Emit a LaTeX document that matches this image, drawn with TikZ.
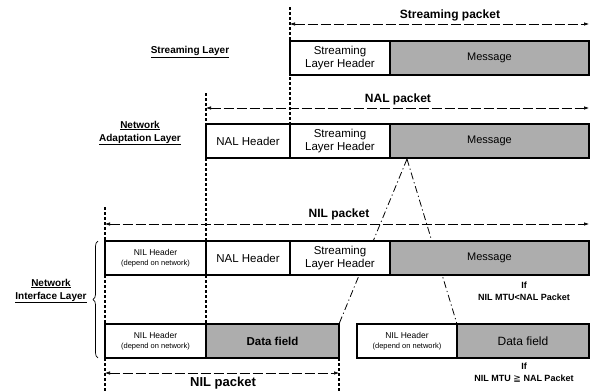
\documentclass[tikz,border=0pt]{standalone}
\usepackage{fontspec}
\setmainfont{Liberation Sans}
\newfontfamily\symfont{DejaVu Sans}
\usetikzlibrary{arrows.meta,decorations.pathreplacing}

\begin{document}
\begin{tikzpicture}[x=1pt,y=-1pt,
  every node/.style={inner sep=0pt,outer sep=0pt},
  box/.style={draw,line width=1.1pt,fill=white,minimum height=34pt,anchor=north west,align=center},
  msg/.style={box,fill=black!32},
  guide/.style={line width=1.1pt,dash pattern=on 3pt off 2pt},
  span/.style={line width=0.6pt,dash pattern=on 10pt off 3pt,
    {Latex[length=5pt,width=3.5pt]}-{Latex[length=5pt,width=3.5pt]}},
  fan/.style={line width=0.8pt,dash pattern=on 7pt off 3pt on 1.2pt off 3pt},
  hdr/.style={font=\fontsize{11.5}{13}\selectfont},
  nilhdr/.style={font=\fontsize{8.5}{11}\selectfont},
  msgtxt/.style={font=\fontsize{11}{13}\selectfont},
  spanlbl/.style={font=\fontsize{12}{14}\selectfont\bfseries},
  layer/.style={font=\fontsize{10}{13}\selectfont\bfseries,align=center},
  cond/.style={font=\fontsize{9}{12}\selectfont\bfseries,align=center}
]
\useasboundingbox (0,0) rectangle (590,391);

% --- coordinates for guides and spans ---
\coordinate (g1) at (290,7);
\coordinate (g2) at (206,93);
\coordinate (g3a) at (105,207);
\coordinate (g3b) at (105,391);
\coordinate (g4) at (339,391);
\coordinate (sp1a) at (290,24);  \coordinate (sp1b) at (589,24);
\coordinate (sp2a) at (206,108); \coordinate (sp2b) at (589,108);
\coordinate (sp3a) at (105,224); \coordinate (sp3b) at (589,224);
\coordinate (sp4a) at (105,373); \coordinate (sp4b) at (339,373);
\coordinate (apex) at (407,159);

% --- fragmentation fan (behind the boxes) ---
\draw[fan] (apex) -- (339,324) coordinate (fanL);
\draw[fan] (apex) -- (457,324) coordinate (fanR);

% --- streaming layer row ---
\node[box,minimum width=100pt,hdr] (slh1) at (290,41) {Streaming\\Layer Header};
\node[msg,minimum width=199pt,msgtxt] (msg1) at (390,41) {Message};

% --- network adaptation layer row ---
\node[box,minimum width=84pt,hdr] (nalh2) at (206,124) {NAL Header};
\node[box,minimum width=100pt,hdr] (slh2) at (290,124) {Streaming\\Layer Header};
\node[msg,minimum width=199pt,msgtxt] (msg2) at (390,124) {Message};

% --- network interface layer, NIL MTU < NAL packet ---
\node[box,minimum width=101pt,nilhdr] (nilh3) at (105,241) {NIL Header\\[-1pt]{\fontsize{7.5}{9}\selectfont(depend on network)}};
\node[box,minimum width=84pt,hdr] (nalh3) at (206,241) {NAL Header};
\node[box,minimum width=100pt,hdr] (slh3) at (290,241) {Streaming\\Layer Header};
\node[msg,minimum width=199pt,msgtxt] (msg3) at (390,241) {Message};

% --- network interface layer, NIL MTU >= NAL packet ---
\node[box,minimum width=101pt,nilhdr] (nilh4) at (105,324) {NIL Header\\[-1pt]{\fontsize{7.5}{9}\selectfont(depend on network)}};
\node[msg,minimum width=133pt,font=\fontsize{11.5}{13}\selectfont\bfseries] (df4) at (206,324) {Data field};
\node[box,minimum width=100pt,nilhdr] (nilh5) at (357,324) {NIL Header\\[-1pt]{\fontsize{7.5}{9}\selectfont(depend on network)}};
\node[msg,minimum width=132pt,font=\fontsize{12}{14}\selectfont] (df5) at (457,324) {Data field};

% --- dashed guide lines ---
\draw[guide] (g1) -- (slh2.north west);
\draw[guide] (g2) -- (nalh2.north west);
\draw[guide] (nalh2.south west) -- (nalh3.north west);
\draw[guide] (nalh3.south west) -- (df4.north west);
\draw[guide] (g3a) -- (nilh3.north west);
\draw[guide] (nilh3.south west) -- (nilh4.north west);
\draw[guide] (nilh4.south west) -- (g3b);
\draw[guide] (df4.south east) -- (g4);

% --- packet spans ---
\draw[span] (sp1a) -- (sp1b);
\draw[span] (sp2a) -- (sp2b);
\draw[span] (sp3a) -- (sp3b);
\draw[span] (sp4a) -- (sp4b);
\node[spanlbl] (lsp1) at (450,15) {Streaming packet};
\node[spanlbl] (lsp2) at (398,99) {NAL packet};
\node[spanlbl] (lsp3) at (339,214) {NIL packet};
\node[font=\fontsize{13}{15}\selectfont\bfseries] (lsp4) at (223,383) {NIL packet};

% --- layer names ---
\node[layer] (lay1) at (190,52) {\underline{Streaming Layer}};
\node[layer] (lay2) at (140,133) {\underline{Network}\\\underline{Adaptation Layer}};
\node[layer] (lay3) at (51,291) {\underline{Network}\\\underline{Interface Layer}};
\draw[line width=0.7pt,decorate,decoration={brace,amplitude=5pt}] (98,358) -- (98,241);

% --- conditions ---
\node[cond] (c1) at (524,291) {If\\NIL MTU<NAL Packet};
\node[cond] (c2) at (524,373) {If\\NIL MTU {\symfont\mdseries ≧} NAL Packet};
\end{tikzpicture}
\end{document}
